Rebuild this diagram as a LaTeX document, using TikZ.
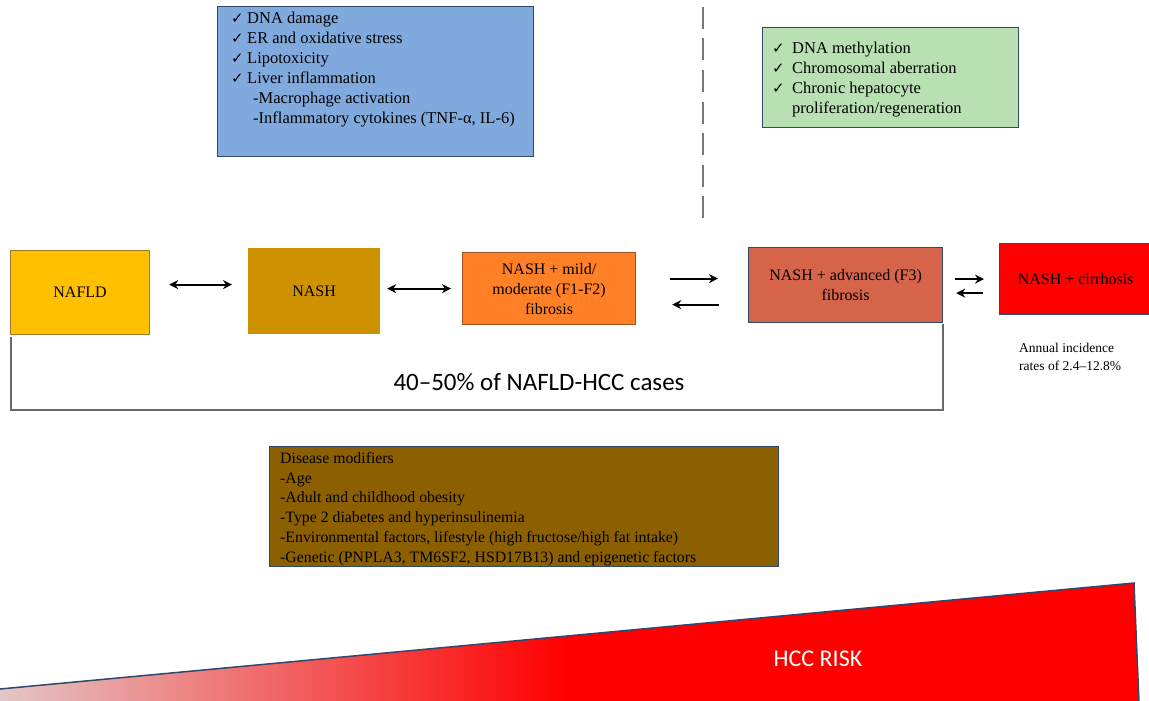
\documentclass[tikz,border=0pt]{standalone}
\usepackage{fontspec}
\setmainfont{Liberation Serif}
\newfontfamily\symf{DejaVu Sans}
\newfontfamily\calib{Carlito}
\usetikzlibrary{arrows.meta}
\definecolor{bluefill}{RGB}{128,170,221}
\definecolor{bordblue}{RGB}{47,72,110}
\definecolor{greenfill}{RGB}{184,224,178}
\definecolor{naflfill}{RGB}{255,192,0}
\definecolor{nafldr}{RGB}{160,120,40}
\definecolor{nashfill}{RGB}{206,146,0}
\definecolor{mildfill}{RGB}{255,128,38}
\definecolor{milddr}{RGB}{160,82,35}
\definecolor{advfill}{RGB}{214,100,74}
\definecolor{brownfill}{RGB}{140,96,0}
\definecolor{riskleft}{RGB}{228,198,198}
\definecolor{riskred}{RGB}{255,0,0}
\definecolor{lgray}{RGB}{120,120,120}
\definecolor{bgray}{RGB}{105,105,105}
\pgfdeclarehorizontalshading{riskshade}{100bp}{color(0bp)=(riskleft); color(25bp)=(riskleft); color(49.8bp)=(riskred); color(100bp)=(riskred)}
\newcommand\ckb{\makebox[16pt][l]{\symf\fontsize{15pt}{15pt}\selectfont ✓}}
\newcommand\ckg{\makebox[20pt][l]{\symf\fontsize{15pt}{15pt}\selectfont ✓}}
\begin{document}
\begin{tikzpicture}[x=1pt,y=-1pt,
  box/.style={draw, line width=1.2pt, inner sep=0pt, anchor=north west, align=center, font=\fontsize{16pt}{20pt}\selectfont},
  txt/.style={inner sep=0pt, anchor=north west, align=left, font=\fontsize{16.5pt}{20pt}\selectfont},
  modt/.style={inner sep=0pt, anchor=north west, align=left, font=\fontsize{15.8pt}{19.8pt}\selectfont},
  dbl/.style={{Stealth[length=9pt,width=9pt]}-{Stealth[length=9pt,width=9pt]}, line width=1.8pt},
  one/.style={-{Stealth[length=9pt,width=9pt]}, line width=1.8pt},
  bracketline/.style={draw=bgray, line width=2pt},
  dashline/.style={draw=lgray, line width=2.8pt, dash pattern=on 22pt off 9.5pt}]
\useasboundingbox (0,0) rectangle (1149,701);

% risk triangle
\coordinate (tl) at (0,689);
\coordinate (tr) at (1134,583);
\coordinate (br) at (1139,703);
\coordinate (bl) at (0,703);
\shade[shading=riskshade] (tl) -- (tr) -- (br) -- (bl) -- cycle;
\draw[bordblue, line width=1.5pt] (tl) -- (tr) -- (br);
\node[font=\calib\fontsize{24pt}{28pt}\selectfont, text=white, anchor=base, inner sep=0pt] (risk) at (818,666) {HCC RISK};

% top boxes
\node[box, fill=bluefill, draw=bordblue, minimum width=316pt, minimum height=150pt] (blue) at (217,6) {};
\node[txt] (bluetxt) at (231,12) {\ckb DNA damage\\\ckb ER and oxidative stress\\\ckb Lipotoxicity\\\ckb Liver inflammation\\\hspace*{22pt}-Macrophage activation\\\hspace*{22pt}-Inflammatory cytokines (TNF-α, IL-6)};

\coordinate (d1) at (703,7);
\coordinate (d2) at (703,218);
\draw[dashline] (d1) -- (d2);

\node[box, fill=greenfill, draw=bordblue, minimum width=256pt, minimum height=100pt] (green) at (762,27) {};
\node[txt] (greentxt) at (772,41.5) {\ckg DNA methylation\\\ckg Chromosomal aberration\\\ckg Chronic hepatocyte\\\hspace*{20pt}proliferation/regeneration};

% stages
\node[box, fill=naflfill, draw=nafldr, minimum width=139pt, minimum height=84pt] (nafld) at (10,250) {NAFLD};
\node[box, fill=nashfill, draw=nashfill, minimum width=131pt, minimum height=85pt] (nash) at (248,248) {NASH};
\node[box, fill=mildfill, draw=milddr, minimum width=173pt, minimum height=72pt] (mild) at (462,252) {NASH + mild/\\moderate (F1-F2)\\fibrosis};
\node[box, fill=advfill, draw=bordblue, minimum width=194pt, minimum height=75pt] (adv) at (748,247) {NASH + advanced (F3)\\fibrosis};
\node[box, fill=riskred, draw=bordblue, minimum width=152pt, minimum height=71pt] (cirr) at (999,243) {NASH + cirrhosis};

% arrows
\draw[dbl, shorten <=19pt, shorten >=16pt] ([yshift=8pt]nafld.east) -- ([yshift=8pt]nafld.east -| nash.west);
\draw[dbl, shorten <=7pt, shorten >=11pt] (nash.east |- mild.west) -- (mild.west);
\draw[one, shorten <=34pt, shorten >=30pt] ([yshift=10pt]mild.east) -- ([yshift=10pt]mild.east -| adv.west);
\draw[one, shorten <=29pt, shorten >=36pt] ([yshift=-16pt]mild.east -| adv.west) -- ([yshift=-16pt]mild.east);
\draw[one, shorten <=12pt, shorten >=15pt] (adv.east |- cirr.west) -- (cirr.west);
\draw[one, shorten <=16pt, shorten >=13pt] ([yshift=-14pt]cirr.west) -- ([yshift=-14pt]cirr.west -| adv.east);

\node[inner sep=0pt, anchor=north west, align=left, font=\fontsize{13.5pt}{17.5pt}\selectfont] (annual) at (1019,343) {Annual incidence\\rates of 2.4–12.8\%};

% bracket
\draw[bracketline] ([xshift=1pt,yshift=-2pt]nafld.south west) -- ++(0,73) coordinate (bk) -| ([yshift=-1pt]adv.south east);
\node[font=\calib\fontsize{25pt}{30pt}\selectfont, anchor=base, inner sep=0pt] (pct) at (539,390) {40–50\% of NAFLD-HCC cases};

% modifiers
\node[box, fill=brownfill, draw=bordblue, minimum width=509pt, minimum height=120pt] (mod) at (269,446) {};
\node[modt] (modtxt) at (280,452) {Disease modifiers\\-Age\\-Adult and childhood obesity\\-Type 2 diabetes and hyperinsulinemia\\-Environmental factors, lifestyle (high fructose/high fat intake)\\-Genetic (PNPLA3, TM6SF2, HSD17B13) and epigenetic factors};
\end{tikzpicture}
\end{document}
